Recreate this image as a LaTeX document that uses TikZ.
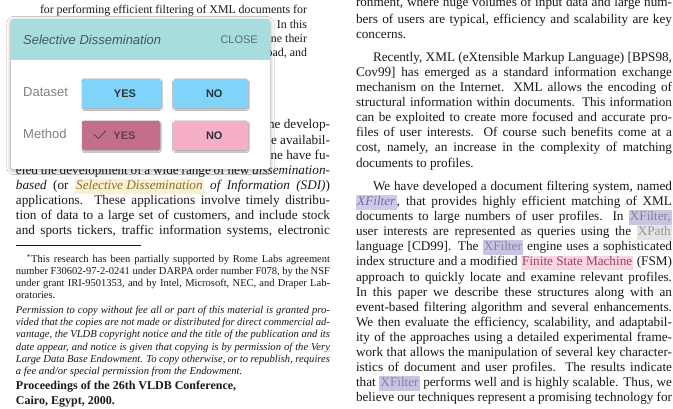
\documentclass[tikz,border=0pt]{standalone}
\usepackage{fontspec}
\setmainfont{Liberation Serif}
\newfontfamily\uifont{Liberation Sans}
\usetikzlibrary{shadows.blur}
\definecolor{bodyc}{RGB}{25,25,25}
\definecolor{hdrc}{RGB}{168,221,224}
\definecolor{btnblue}{RGB}{129,212,249}
\definecolor{btnsel}{RGB}{195,111,137}
\definecolor{btnpink}{RGB}{246,175,200}
\definecolor{lblc}{RGB}{128,128,128}
\definecolor{titlec}{RGB}{72,86,88}
\definecolor{closec}{RGB}{92,106,108}
\definecolor{btntext}{RGB}{45,50,55}
\definecolor{seltext}{RGB}{100,62,80}
\definecolor{hlyel}{RGB}{253,240,205}
\definecolor{hlyeltext}{RGB}{125,112,75}
\definecolor{hllav}{RGB}{208,202,234}
\definecolor{hllavtext}{RGB}{112,110,160}
\definecolor{hllavb}{RGB}{200,197,226}
\definecolor{hllavbtext}{RGB}{132,130,160}
\definecolor{hlgray}{RGB}{228,228,228}
\definecolor{hlgraytext}{RGB}{150,150,150}
\definecolor{hlpink}{RGB}{250,212,224}
\definecolor{hlpinktext}{RGB}{150,70,100}
\newcommand{\hlbox}[3]{{\setlength{\fboxsep}{1.2pt}\colorbox{#1}{\color{#2}\vphantom{Xg}#3}}}
\newcommand{\hlA}[1]{\hlbox{hllav}{hllavtext}{#1}}
\newcommand{\hlB}[1]{\hlbox{hllavb}{hllavbtext}{#1}}
\newcommand{\hlC}[1]{\hlbox{hlgray}{hlgraytext}{#1}}
\newcommand{\hlD}[1]{\hlbox{hlpink}{hlpinktext}{#1}}
\newcommand{\hlY}[1]{\hlbox{hlyel}{hlyeltext}{#1}}
\newcommand{\jline}[2]{\makebox[#1][s]{#2}}
\begin{document}
\begin{tikzpicture}[x=1pt,y=-1pt,
  txt/.style={anchor=base west, inner sep=0pt, outer sep=0pt, text=bodyc, font=\fontsize{13.2}{15.1}\selectfont},
  txtr/.style={txt, anchor=base east},
  abs/.style={txt, font=\fontsize{11.9}{14}\selectfont},
  absr/.style={abs, anchor=base east},
  fn/.style={txt, font=\fontsize{10.5}{12}\selectfont},
  perm/.style={txt, font=\fontsize{10.6}{12}\selectfont\itshape},
  procb/.style={txt, font=\fontsize{12}{14}\selectfont\bfseries},
  panelbox/.style={fill=white, rounded corners=2.5pt, inner sep=0pt,
    minimum width=259pt, minimum height=150pt,
    blur shadow={shadow xshift=0pt, shadow yshift=-1.5pt, shadow blur radius=4pt, shadow blur steps=8, shadow opacity=35}},
  btn/.style={inner sep=0pt, rounded corners=1.5pt, minimum height=29pt,
    font=\uifont\bfseries\fontsize{11}{13}\selectfont, text=btntext,
    blur shadow={shadow xshift=0.3pt, shadow yshift=-1.2pt, shadow blur radius=1.3pt, shadow blur steps=5, shadow opacity=40}},
  lbl/.style={anchor=base west, inner sep=0pt, text=lblc, font=\uifont\fontsize{13}{15}\selectfont}
]
\fill[white] (0,0) rectangle (673,409);
\useasboundingbox (0,0) rectangle (673,409);

% ---------- right column ----------
\node[txt] (r1) at (356,6.2) {\jline{316pt}{ronment, where huge volumes of input data and large num-}};
\node[txt] (r2) at (356,23.5) {\jline{316pt}{bers of users are typical, efficiency and scalability are key}};
\node[txt] (r3) at (356,38.6) {concerns.};
\node[txt] (r4) at (373,61.2) {\jline{299pt}{Recently, XML (eXtensible Markup Language) [BPS98,}};
\node[txt] (r5) at (356,76.3) {\jline{316pt}{Cov99] has emerged as a standard information exchange}};
\node[txt] (r6) at (356,91.4) {\jline{316pt}{mechanism on the Internet. XML allows the encoding of}};
\node[txt] (r7) at (356,106.5) {\jline{316pt}{structural information within documents. This information}};
\node[txt] (r8) at (356,121.6) {\jline{316pt}{can be exploited to create more focused and accurate pro-}};
\node[txt] (r9) at (356,136.7) {\jline{316pt}{files of user interests. Of course such benefits come at a}};
\node[txt] (r10) at (356,151.8) {\jline{316pt}{cost, namely, an increase in the complexity of matching}};
\node[txt] (r11) at (356,167.2) {documents to profiles.};
\node[txt] (r12) at (373,190.4) {\jline{299pt}{We have developed a document filtering system, named}};
\node[txt] (r13) at (356,205.5) {\jline{316pt}{\hlA{\textit{XFilter}}, that provides highly efficient matching of XML}};
\node[txt] (r14) at (356,220.6) {\jline{316pt}{documents to large numbers of user profiles. In \hlB{XFilter,}}};
\node[txt] (r15) at (356,235.7) {\jline{316pt}{user interests are represented as queries using the \hlC{XPath}}};
\node[txt] (r16) at (356,250.8) {\jline{316pt}{language [CD99]. The \hlB{XFilter} engine uses a sophisticated}};
\node[txt] (r17) at (356,265.9) {\jline{316pt}{index structure and a modified \hlD{Finite State Machine} (FSM)}};
\node[txt] (r18) at (356,281.0) {\jline{316pt}{approach to quickly locate and examine relevant profiles.}};
\node[txt] (r19) at (356,296.1) {\jline{316pt}{In this paper we describe these structures along with an}};
\node[txt] (r20) at (356,311.2) {\jline{316pt}{event-based filtering algorithm and several enhancements.}};
\node[txt] (r21) at (356,326.3) {\jline{316pt}{We then evaluate the efficiency, scalability, and adaptabil-}};
\node[txt] (r22) at (356,341.4) {\jline{316pt}{ity of the approaches using a detailed experimental frame-}};
\node[txt] (r23) at (356,356.5) {\jline{316pt}{work that allows the manipulation of several key character-}};
\node[txt] (r24) at (356,371.6) {\jline{316pt}{istics of document and user profiles. The results indicate}};
\node[txt] (r25) at (356,386.7) {\jline{316pt}{that \hlB{XFilter} performs well and is highly scalable. Thus, we}};
\node[txt] (r26) at (356,401.6) {\jline{316pt}{believe our techniques represent a promising technology for}};

% ---------- left column ----------
\node[abs] (a1) at (40,14) {\jline{267pt}{for performing efficient filtering of XML documents for}};
\node[absr] (a2) at (307,28.3) {In this};
\node[absr] (a3) at (307,42.6) {ne their};
\node[absr] (a4) at (307,56.4) {oad, and};

\node[txtr] (l1) at (330,129) {ne develop-};
\node[txtr] (l2) at (330,144.2) {e availabil-};
\node[txtr] (l3) at (330,159.3) {ne have fu-};
\node[txt] (l4) at (16,174.6) {\jline{314pt}{eled the development of a wide range of new \textit{dissemination-}}};
\node[txt] (l5) at (16,189.6) {\jline{314pt}{\textit{based} (or \hlY{\textit{Selective Dissemination}} \textit{of Information (SDI)})}};
\node[txt] (l6) at (16,204.7) {\jline{314pt}{applications. These applications involve timely distribu-}};
\node[txt] (l7) at (16,219.8) {\jline{314pt}{tion of data to a large set of customers, and include stock}};
\node[txt] (l8) at (16,234.9) {\jline{314pt}{and sports tickers, traffic information systems, electronic}};

\coordinate (rulea) at (16,245);
\coordinate (ruleb) at (141,245);
\draw[bodyc, line width=0.5pt] (rulea) -- (ruleb);

\node[fn] (f1) at (27,263) {\jline{303pt}{\textsuperscript{*}This research has been partially supported by Rome Labs agreement}};
\node[fn] (f2) at (16,274.7) {\jline{314pt}{number F30602-97-2-0241 under DARPA order number F078, by the NSF}};
\node[fn] (f3) at (16,286.4) {\jline{314pt}{under grant IRI-9501353, and by Intel, Microsoft, NEC, and Draper Lab-}};
\node[fn] (f4) at (16,298.1) {oratories.};

\node[perm] (p1) at (16,313.3) {\jline{314pt}{Permission to copy without fee all or part of this material is granted pro-}};
\node[perm] (p2) at (16,325.6) {\jline{314pt}{vided that the copies are not made or distributed for direct commercial ad-}};
\node[perm] (p3) at (16,337.9) {\jline{314pt}{vantage, the VLDB copyright notice and the title of the publication and its}};
\node[perm] (p4) at (16,350.2) {\jline{314pt}{date appear, and notice is given that copying is by permission of the Very}};
\node[perm] (p5) at (16,362.5) {\jline{314pt}{Large Data Base Endowment. To copy otherwise, or to republish, requires}};
\node[perm] (p6) at (16,374.8) {a fee and/or special permission from the Endowment.};

\node[procb] (pr1) at (16,389.5) {Proceedings of the 26th VLDB Conference,};
\node[procb] (pr2) at (16,404) {Cairo, Egypt, 2000.};

% ---------- panel ----------
\node[panelbox] (panel) at (140.5,94) {};
\fill[hdrc, rounded corners=2.5pt] (11,19) rectangle (270,60);
\fill[hdrc] (11,50) rectangle (270,60);
\node[anchor=base west, inner sep=0pt, text=titlec, font=\uifont\itshape\fontsize{13}{15}\selectfont] (title) at (23,44.3) {Selective Dissemination};
\node[anchor=base east, inner sep=0pt, text=closec, font=\uifont\fontsize{11}{13}\selectfont] (close) at (258,44) {CLOSE};

\node[lbl] (ldata) at (23,96.6) {Dataset};
\node[lbl] (lmeth) at (23,138.6) {Method};

\node[btn, fill=btnblue, minimum width=79pt] (byes1) at (121.5,93.5) {\hspace*{7pt}YES};
\node[btn, fill=btnblue, minimum width=74.5pt] (bno1) at (210.75,93.5) {\hspace*{7pt}NO};
\node[btn, fill=btnsel, minimum width=78pt, text=seltext] (byes2) at (121,135.5) {\hspace*{7pt}YES};
\node[btn, fill=btnpink, minimum width=74.5pt] (bno2) at (210.75,135.5) {\hspace*{7pt}NO};

\coordinate (ck1) at (94,134.5);
\coordinate (ck2) at (98.5,138.5);
\coordinate (ck3) at (106,130.6);
\draw[seltext, line width=0.9pt] (ck1) -- (ck2) -- (ck3);
\end{tikzpicture}
\end{document}
